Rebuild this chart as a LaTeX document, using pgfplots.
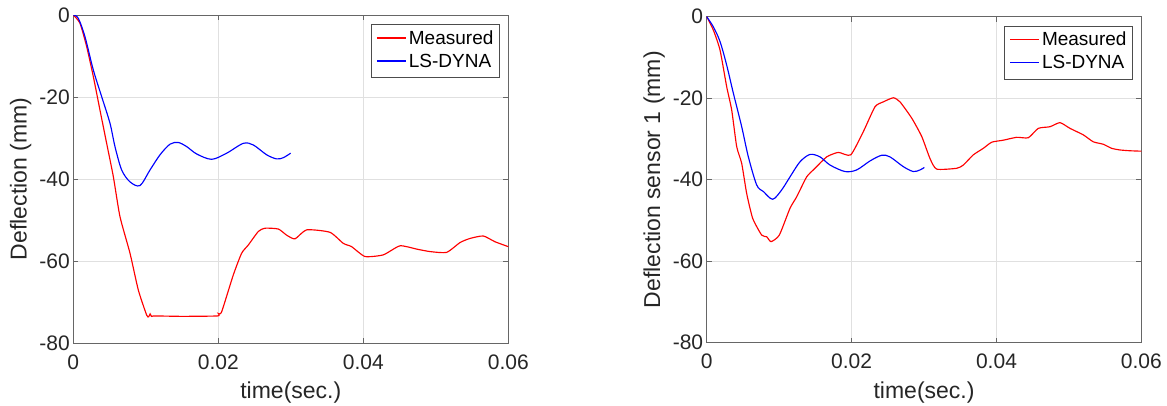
\documentclass[border=0pt]{standalone}
\usepackage{pgfplots}
\pgfplotsset{compat=1.18}
\usepackage{fontspec}
\setmainfont{Liberation Sans}
\definecolor{mred}{rgb}{1,0,0}
\definecolor{mblue}{rgb}{0,0,1}
\pgfplotstableread{
t d
0 0
0.00092 -2.0
0.00184 -7.7
0.00276 -15.0
0.00368 -23.2
0.0046 -31.3
0.00552 -39.4
0.00644 -49.2
0.00782 -58.1
0.00897 -67.1
0.01012 -73.2
0.0104 -73.6
0.0106 -72.9
0.0108 -73.6
0.01104 -73.4
0.0150 -73.5
0.0199 -73.4
0.0200 -72.8
0.02046 -72.4
0.02207 -63.4
0.02322 -58.1
0.02414 -56.1
0.02552 -52.8
0.02644 -52.0
0.02828 -52.2
0.02943 -53.7
0.03058 -54.6
0.03219 -52.4
0.0354 -53.0
0.03724 -55.7
0.03839 -56.5
0.04023 -58.9
0.04276 -58.5
0.04506 -56.3
0.04736 -57.1
0.0492 -57.7
0.0515 -57.9
0.05334 -55.5
0.05472 -54.5
0.05655 -53.9
0.05816 -55.3
0.0600 -56.5
}\leftmeas
\pgfplotstableread{
t d
0 0
0.00069 -0.8
0.00161 -5.3
0.00276 -13.4
0.00391 -19.9
0.00506 -26.4
0.00575 -32.1
0.00667 -37.8
0.00782 -40.7
0.0092 -41.6
0.01058 -37.8
0.01196 -34.1
0.01334 -31.5
0.01449 -31.1
0.01564 -32.1
0.01702 -33.9
0.01909 -35.2
0.02116 -33.7
0.02345 -31.3
0.02483 -31.7
0.02667 -34.1
0.02805 -35.1
0.02897 -34.8
0.02998 -33.7
}\leftdyna
\pgfplotstableread{
t d
0 0
0.00092 -3.3
0.00184 -8.2
0.00276 -17.2
0.00345 -22.9
0.00414 -31.9
0.00483 -36.0
0.00552 -43.4
0.00635 -49.5
0.00759 -53.6
0.00828 -54.0
0.00888 -55.2
0.01002 -53.6
0.0115 -47.0
0.01242 -44.2
0.0138 -39.3
0.01495 -37.2
0.01656 -34.4
0.01817 -33.3
0.01988 -33.9
0.02162 -28.2
0.02323 -22.1
0.02438 -20.9
0.02576 -19.9
0.02668 -20.9
0.0283 -24.9
0.02968 -29.4
0.03082 -34.8
0.03174 -37.4
0.0345 -37.2
0.03542 -36.4
0.0368 -33.9
0.03818 -32.3
0.03934 -30.8
0.04094 -30.3
0.04279 -29.6
0.04439 -29.7
0.04577 -27.4
0.04738 -27.0
0.04876 -26.0
0.05014 -27.4
0.05198 -29.0
0.05336 -30.7
0.05474 -31.3
0.05589 -32.3
0.05704 -32.7
0.05842 -32.9
0.0600 -33.0
}\rightmeas
\pgfplotstableread{
t d
0 0
0.00092 -2.5
0.00184 -6.1
0.00276 -11.9
0.00368 -18.8
0.00483 -27.0
0.00575 -34.4
0.0069 -41.3
0.00782 -42.9
0.00911 -44.8
0.01035 -42.5
0.0115 -39.3
0.01288 -35.6
0.01426 -33.8
0.01564 -34.4
0.01702 -36.4
0.01909 -38.0
0.0207 -37.6
0.02254 -35.4
0.02415 -34.0
0.0253 -34.4
0.02714 -36.8
0.02852 -38.0
0.02944 -37.6
0.03004 -37.0
}\rightdyna
\newcommand{\legendbox}{%
  \begin{tabular}{@{}l@{\hspace{3pt}}l@{}}
  \textcolor{mred}{\rule[5.6pt]{29pt}{1.15pt}} & Measured\\
  \textcolor{mblue}{\rule[5.6pt]{29pt}{1.15pt}} & LS-DYNA
  \end{tabular}}
\tikzset{
  legnode/.style={draw=black!70, line width=0.8pt, fill=white, anchor=north east,
    inner xsep=5.5pt, inner ysep=3.7pt, xshift=-9pt, yshift=-9pt,
    font=\fontsize{19}{23}\selectfont},
}
\pgfplotsset{
  mystyle/.style={
    scale only axis, xmin=0, xmax=0.06, ymin=-80, ymax=0,
    scaled x ticks=false, scaled y ticks=false,
    xtick={0,0.02,0.04,0.06}, xticklabels={0,0.02,0.04,0.06},
    ytick={-80,-60,-40,-20,0}, yticklabels={-80,-60,-40,-20,0},
    grid=major, major grid style={color=black!12, line width=0.8pt},
    tick align=inside, major tick length=5pt,
    tick style={color=black!60, line width=0.8pt},
    axis line style={color=black!60, line width=0.8pt},
    ticklabel style={font=\fontsize{21}{25}\selectfont},
    xticklabel style={yshift=-8pt},
    label style={font=\fontsize{23}{27}\selectfont},
    xlabel style={anchor=center},
    ylabel style={anchor=center},
  },
}
\begin{document}
\color{black!85}%
\begin{tikzpicture}
\path[use as bounding box] (0,0) rectangle (1167pt,406pt);
\begin{axis}[mystyle, at={(73.3pt,63pt)}, anchor=south west,
  width=435pt, height=328pt,
  xlabel={time(sec.)}, ylabel={Deflection (mm)},
  xlabel style={at={(axis description cs:0.5,-0.1524)}},
  ylabel style={at={(axis description cs:-0.1207,0.5)}}]
\addplot[draw=mred, line width=1.15pt, smooth, tension=0.35] table[x=t,y=d] {\leftmeas};
\addplot[draw=mblue, line width=1.15pt, smooth, tension=0.5] table[x=t,y=d] {\leftdyna};
\node[legnode] at (rel axis cs:1,1) {\legendbox};
\end{axis}
\begin{axis}[mystyle, at={(706.7pt,63.3pt)}, anchor=south west,
  width=434.7pt, height=326pt,
  xlabel={time(sec.)}, ylabel={Deflection sensor 1 (mm)},
  xlabel style={at={(axis description cs:0.5,-0.1534)}},
  ylabel style={at={(axis description cs:-0.1208,0.5)}}]
\addplot[draw=mred, line width=1.15pt, smooth, tension=0.35] table[x=t,y=d] {\rightmeas};
\addplot[draw=mblue, line width=1.15pt, smooth, tension=0.5] table[x=t,y=d] {\rightdyna};
\node[legnode] at (rel axis cs:1,1) {\legendbox};
\end{axis}
\end{tikzpicture}
\end{document}
